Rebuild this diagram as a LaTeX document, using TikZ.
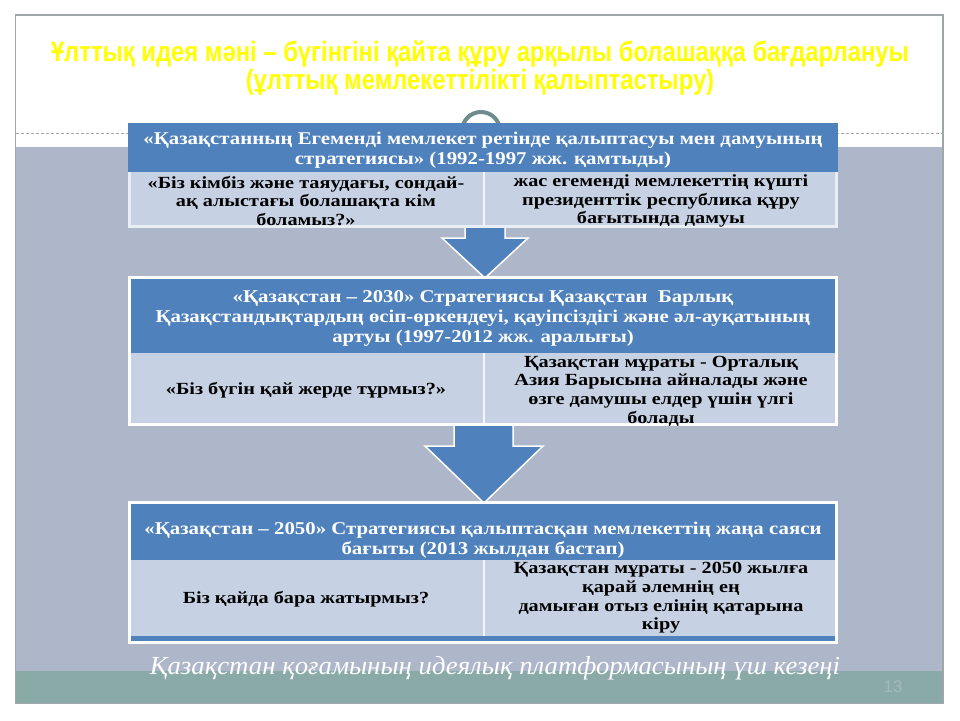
\documentclass[tikz,border=0pt]{standalone}
\usepackage{fontspec}
\setmainfont{Liberation Serif}
\newfontfamily\ttlfont[FakeStretch=0.85]{Liberation Sans}
\newfontfamily\hdfont[FakeStretch=1.157]{Liberation Serif}
\newfontfamily\bdfont[FakeStretch=1.19]{Liberation Serif}
\newfontfamily\ftfont[FakeStretch=1.03]{Liberation Serif}
\newfontfamily\numfont{Liberation Sans}
\definecolor{hdblue}{HTML}{4F81BD}
\definecolor{cellbg}{HTML}{C7D1E4}
\definecolor{bgblue}{HTML}{AEB6CA}
\definecolor{bandteal}{HTML}{8AAAA7}
\definecolor{framegray}{HTML}{9FA8A8}
\definecolor{circgray}{HTML}{6F8C8C}
\definecolor{ttlyellow}{HTML}{FFFF00}
\definecolor{numgray}{HTML}{A3BABA}
\begin{document}
\begin{tikzpicture}[x=1pt,y=-1pt,
  hdr/.style={font=\hdfont\bfseries\fontsize{18}{20}\selectfont, text=white, align=center, inner sep=0pt},
  celltxt/.style={font=\bdfont\bfseries\fontsize{17}{18.7}\selectfont, text=black, align=center, inner sep=0pt},
  blockarrow/.style={fill=hdblue, draw=white, line width=1.5pt, line join=miter},
  divider/.style={draw=white!80!cellbg, line width=1.5pt}
]
\useasboundingbox (0,0) rectangle (960,720);
\fill[white] (0,0) rectangle (960,720);
% slide background
\fill[bgblue] (16,147) rectangle (943,671);
\fill[bandteal] (16,671) rectangle (943,703);
\draw[framegray, line width=1.2pt] (15.5,15) rectangle (943,703.5);
\draw[gray!70, line width=0.8pt, dash pattern=on 3pt off 2pt] (16,133) -- (943,133);
% title
\node[font=\ttlfont\bfseries\fontsize{28}{28}\selectfont, text=ttlyellow, align=center, inner sep=0pt] (title) at (480,68)
  {Ұлттық идея мәні – бүгінгіні қайта құру арқылы болашаққа бағдарлануы\\(ұлттық мемлекеттілікті қалыптастыру)};
% circle ornament
\draw[circgray, line width=4pt] (481,131) circle (19);
% arrows
\draw[blockarrow] (465,226) -- (505,226) -- (505,238) -- (528,238) -- (485,278) -- (442,238) -- (465,238) -- cycle;
\draw[blockarrow] (454,424) -- (513,424) -- (513,446) -- (543,446) -- (484,503) -- (425,446) -- (454,446) -- cycle;
% table 1
\fill[white!60!cellbg] (128,172) rectangle (838,228);
\fill[hdblue] (128,123) rectangle (838,172);
\fill[cellbg] (131,172) rectangle (835,225);
\draw[divider] (484,172) -- (484,225);
% table 2
\fill[white] (128,276) rectangle (838,426);
\fill[hdblue] (131,279) rectangle (835,353);
\fill[cellbg] (131,353) rectangle (835,423);
\draw[divider] (484,353) -- (484,423);
% table 3
\fill[white] (128,501) rectangle (838,644);
\fill[hdblue] (131,504) rectangle (835,560);
\fill[cellbg] (131,560) rectangle (835,636);
\fill[hdblue] (131,636) rectangle (835,641);
\draw[divider] (484,560) -- (484,636);
% texts table 1
\node[hdr] (t1h) at (483,150) {«Қазақстанның Егеменді мемлекет ретінде қалыптасуы мен дамуының\\стратегиясы» (1992-1997 жж. қамтыды)};
\node[celltxt] (t1l) at (306,201) {«Біз кімбіз және таяудағы, сондай-\\ақ алыстағы болашақта кім\\боламыз?»};
\node[celltxt] (t1r) at (661,201) {жас егеменді мемлекеттің күшті\\президенттік республика құру\\бағытында дамуы};
% texts table 2
\node[hdr] (t2h) at (483,318) {«Қазақстан – 2030» Стратегиясы Қазақстан~ Барлық\\Қазақстандықтардың өсіп-өркендеуі, қауіпсіздігі және әл-ауқатының\\артуы (1997-2012 жж. аралығы)};
\node[celltxt] (t2l) at (306,390) {«Біз бүгін қай жерде тұрмыз?»};
\node[celltxt] (t2r) at (661,391) {Қазақстан мұраты - Орталық\\Азия Барысына айналады және\\өзге дамушы елдер үшін үлгі\\болады};
% texts table 3
\node[hdr] (t3h) at (483,540) {«Қазақстан – 2050» Стратегиясы қалыптасқан мемлекеттің жаңа саяси\\бағыты (2013 жылдан бастап)};
\node[celltxt] (t3l) at (306,599) {Біз қайда бара жатырмыз?};
\node[celltxt] (t3r) at (661,598) {Қазақстан мұраты - 2050 жылға\\қарай әлемнің ең\\дамыған отыз елінің қатарына\\кіру};
% footer
\node[font=\ftfont\itshape\fontsize{26}{28}\selectfont, text=white, inner sep=0pt] (foot) at (495,668) {Қазақстан қоғамының идеялық платформасының үш кезеңі};
\node[font=\numfont\fontsize{17}{18}\selectfont, text=numgray, inner sep=0pt] (num) at (893,687) {13};
\end{tikzpicture}
\end{document}
